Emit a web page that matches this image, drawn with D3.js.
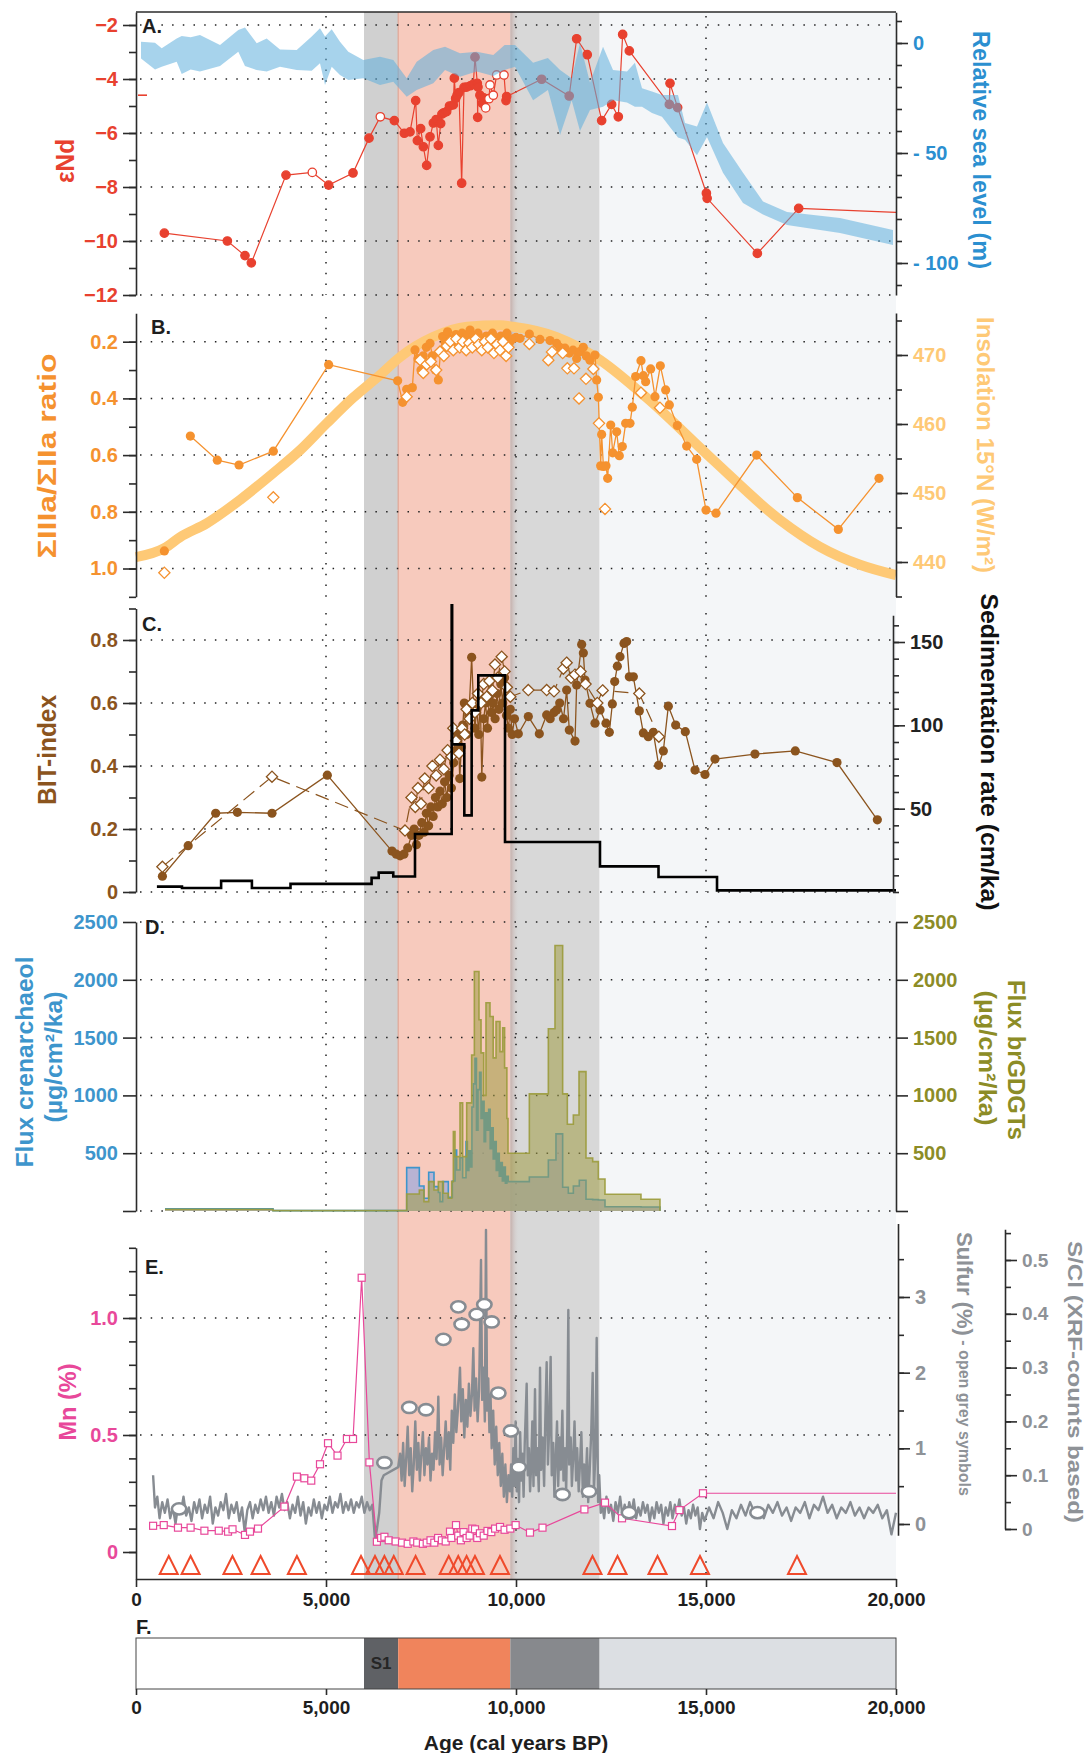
<!DOCTYPE html>
<html>
<head>
<meta charset="utf-8">
<script src="https://cdn.jsdelivr.net/npm/d3@7/dist/d3.min.js"></script>
<style>
  body { margin: 0; background: #fff; }
  svg text { font-family: "Liberation Sans", Arial, Helvetica, sans-serif; font-weight: bold; }
</style>
</head>
<body>
<svg id="chart" width="1092" height="1753"></svg>
<script>
// ---------- data (ages in cal yr BP) ----------
const zoneAges = [0, 6000, 6900, 9850, 12200, 20000];
const ageTicks = [0, 5000, 10000, 15000, 20000];

// A. eNd (filled unless age is in ndOpen)
const ndPoints = [[746,-9.71],[2404,-10.0],[2868,-10.54],[3035,-10.81],[3947,-7.56],[4640,-7.46],[5070,-7.93],[5711,-7.48],[6132,-6.19],[6430,-5.4],
  [6798,-5.54],[7061,-6.01],[7211,-5.96],[7360,-4.8],[7404,-6.28],[7491,-5.84],[7561,-6.51],[7649,-7.2],[7737,-6.14],[7825,-5.63],
  [7900,-5.5],[7956,-6.46],[8018,-5.65],[8050,-5.3],[8100,-5.25],[8175,-5.21],[8250,-5.0],[8350,-4.96],[8377,-3.97],[8412,-4.72],
  [8450,-4.6],[8500,-4.5],[8570,-7.86],[8632,-4.31],[8700,-4.3],[8800,-4.25],[8877,-4.19],[8921,-3.19],[8982,-4.16],[8991,-5.42],
  [9000,-4.3],[9050,-4.6],[9114,-4.9],[9150,-4.7],[9202,-5.07],[9289,-4.73],[9316,-4.22],[9403,-4.6],[9491,-3.85],[9684,-3.85],
  [9737,-4.8],[9754,-4.65],[10675,-4.01],[11400,-4.63],[11596,-2.51],[11875,-3.1],[12254,-5.54],[12517,-4.94],[12692,-5.4],[12807,-2.35],
  [12982,-2.96],[14035,-4.94],[14053,-4.16],[14254,-5.06],[15010,-8.23],[15030,-8.42],[16351,-10.46],[17439,-8.79]];
const ndOpen = [4640, 6430, 9202, 9289, 9316, 9403, 9491, 9684];
const ndEnd = [20000, -8.94];
const ndModern = -4.6;

// A. relative sea level envelope: [age, upper, lower] (m)
const seaLevel = [[132,0.6,-7],[500,0.1,-12],[676,-2.4,-10.8],[1071,2.1,-8.5],[1203,3.2,-14.1],[1439,2.6,-12],[1684,3.6,-13],[2211,-0.9,-10.5],
  [2692,5.9,-4],[2868,7.1,-10.5],[3176,-0.1,-12.3],[3439,2.1,-13],[3789,-2.9,-10.8],[4229,-3.2,-12.3],[4624,2.9,-12.6],[4842,6.7,-9.2],
  [4974,2.9,-19.1],[5150,6.2,-10.8],[5368,0.6,-14.5],[5587,-4,-16.8],[5982,-7.7,-16],[6421,-6.2,-19.1],[6771,-7.7,-17.6],[7124,-16,-24.4],
  [7387,-8.5,-21.4],[7824,-3.2,-18.3],[8132,-1.7,-12.3],[8526,-4.7,-15.3],[8966,-4,-13],[9403,-5.5,-15],[9700,-0.9,-12.3],[9974,-0.9,-10.8],
  [10450,-9,-26],[10840,-6.8,-21.4],[11160,-12.3,-41.8],[11465,-16,-26],[11684,0,-40],[11947,-18,-30.5],[12290,-1.7,-29],[12553,-12.3,-26],
  [12920,-13,-27],[13130,-9,-29],[13316,-20.6,-29],[13579,-22,-31.8],[13842,-23.6,-33.5],[14263,-23.6,-43],[14447,-36.4,-44],[14763,-38,-51],
  [15026,-27,-42.7],[15447,-45.5,-59],[15974,-59,-72.7],[16500,-72,-78],[17132,-76.8,-82.7],[18526,-79.5,-86.4],[19921,-85,-91.8]];

// B. SumIIIa/SumIIa ratio (first sample plotted without a connecting line) and insolation
const ratioSingle = [[746,0.938]];
const ratioPoints = [[1430,0.533],[2140,0.618],[2711,0.635],[3614,0.586],[5070,0.281],[6886,0.338],[7018,0.414],[7123,0.368],[7272,0.362],
  [7342,0.229],[7420,0.26],[7500,0.3],[7560,0.25],[7640,0.22],[7737,0.206],[7800,0.25],[7880,0.3],[7956,0.335],[8010,0.24],
  [8070,0.182],[8130,0.2],[8200,0.165],[8280,0.19],[8350,0.2],[8420,0.175],[8500,0.19],[8580,0.17],[8650,0.2],[8720,0.175],
  [8790,0.159],[8860,0.18],[8930,0.2],[9000,0.17],[9080,0.19],[9150,0.21],[9220,0.18],[9300,0.2],[9380,0.17],[9450,0.19],
  [9520,0.2],[9600,0.18],[9680,0.19],[9760,0.17],[9840,0.2],[9920,0.19],[10000,0.185],[10105,0.188],[10351,0.173],[10632,0.192],
  [10895,0.196],[11070,0.206],[11150,0.22],[11289,0.223],[11400,0.24],[11500,0.23],[11596,0.259],[11680,0.235],[11771,0.22],[11850,0.25],
  [11947,0.265],[12079,0.247],[12123,0.335],[12167,0.396],[12228,0.638],[12254,0.527],[12300,0.64],[12368,0.638],[12412,0.682],[12492,0.494],
  [12544,0.592],[12649,0.518],[12719,0.602],[12798,0.57],[12886,0.488],[13000,0.488],[13061,0.431],[13149,0.323],[13289,0.267],[13351,0.32],
  [13412,0.341],[13544,0.296],[13658,0.394],[13798,0.285],[13939,0.37],[14035,0.423],[14245,0.496],[14491,0.568],[14754,0.615],[15000,0.794],
  [15263,0.805],[16333,0.6],[17404,0.75],[18482,0.862],[19553,0.682]];
const ratioOpen = [[746,1.015],[3614,0.749],[7123,0.394],[7480,0.265],[7560,0.31],[7650,0.28],[7760,0.27],[7900,0.3],[8000,0.235],[8100,0.25],
  [8180,0.215],[8270,0.2],[8350,0.23],[8430,0.19],[8520,0.22],[8600,0.2],[8690,0.23],[8770,0.205],[8850,0.22],[8940,0.19],
  [9020,0.21],[9100,0.23],[9180,0.2],[9260,0.22],[9340,0.19],[9420,0.24],[9500,0.21],[9580,0.23],[9660,0.2],[9740,0.25],
  [9800,0.22],[10351,0.208],[10851,0.265],[10947,0.236],[11228,0.24],[11351,0.294],[11526,0.294],[11658,0.4],[11842,0.331],[12035,0.296],
  [12184,0.488],[12342,0.79],[13289,0.38],[13789,0.433]];
const insolation = [[0,440.7],[746,442],[1158,443.6],[1860,445.6],[2737,449],[3614,452.9],[4316,456.2],[5018,460.1],[5711,463.8],[6421,467.1],
  [6947,469.7],[7816,472.6],[8711,474.1],[9579,474.3],[9921,474.1],[11070,472.6],[12123,469.6],[13439,463.8],[15184,454.8],[16947,446.1],
  [18000,442.2],[19053,439.6],[20000,438.1]];

// C. BIT index and sedimentation rate
const bitPoints = [[695,0.05],[1373,0.147],[2097,0.25],[2667,0.253],[3579,0.25],[5035,0.371],[6737,0.13],[6850,0.12],[6950,0.115],[7050,0.12],
  [7150,0.14],[7250,0.18],[7320,0.2],[7380,0.15],[7450,0.18],[7520,0.22],[7580,0.19],[7640,0.25],[7700,0.21],[7760,0.27],
  [7820,0.24],[7880,0.3],[7940,0.27],[8000,0.32],[8060,0.28],[8120,0.35],[8180,0.3],[8240,0.37],[8300,0.33],[8360,0.41],
  [8420,0.45],[8480,0.5],[8520,0.36],[8560,0.46],[8600,0.53],[8640,0.6],[8700,0.5],[8760,0.56],[8833,0.745],[8880,0.6],
  [8920,0.52],[8970,0.58],[9020,0.5],[9060,0.62],[9100,0.365],[9150,0.55],[9200,0.6],[9250,0.52],[9300,0.62],[9350,0.57],
  [9400,0.6],[9450,0.55],[9500,0.63],[9550,0.58],[9600,0.66],[9650,0.6],[9700,0.68],[9750,0.56],[9800,0.52],[9850,0.58],
  [9900,0.5],[9960,0.55],[10061,0.502],[10324,0.557],[10614,0.502],[10807,0.562],[10900,0.55],[11000,0.57],[11070,0.578],[11150,0.6],
  [11250,0.55],[11333,0.641],[11403,0.514],[11553,0.479],[11596,0.657],[11728,0.786],[11772,0.759],[11816,0.673],[11947,0.599],[12079,0.536],
  [12211,0.578],[12368,0.536],[12456,0.507],[12535,0.597],[12597,0.668],[12667,0.717],[12737,0.747],[12842,0.789],[12912,0.795],[12982,0.683],
  [13088,0.683],[13245,0.575],[13351,0.505],[13482,0.493],[13614,0.507],[13754,0.402],[13877,0.448],[14009,0.59],[14202,0.53],[14456,0.509],
  [14711,0.387],[14974,0.373],[15237,0.422],[16289,0.438],[17350,0.448],[18447,0.411],[19509,0.229]];
const bitOpen = [[695,0.08],[3579,0.366],[7079,0.195],[7250,0.3],[7350,0.27],[7420,0.33],[7500,0.28],[7600,0.36],[7700,0.33],[7800,0.4],
  [7900,0.37],[8000,0.42],[8100,0.39],[8200,0.45],[8300,0.43],[8350,0.52],[8420,0.48],[8500,0.44],[8580,0.52],[8650,0.5],
  [8700,0.58],[8780,0.55],[8850,0.6],[8920,0.57],[9000,0.63],[9080,0.6],[9150,0.66],[9230,0.62],[9300,0.67],[9380,0.64],
  [9447,0.722],[9520,0.68],[9623,0.747],[9700,0.7],[9760,0.65],[9850,0.62],[10324,0.641],[10807,0.641],[11000,0.637],[11246,0.709],
  [11333,0.728],[11450,0.68],[11550,0.69],[11700,0.7],[11830,0.66],[12140,0.6],[12280,0.64],[13245,0.63],[13760,0.493]];
const sedRate = [[550,3.2],[1210,2.4],[2240,6.7],[3050,2.4],[4066,4.9],[6200,8.5],[6387,11.6],[6770,9.3],[7342,34.8],[8307,172],
  [8320,88.6],[8640,46],[8833,109],[9008,130],[9711,30],[12210,15.4],[13750,9],[15290,1],[20000,1]];

// D. fluxes (ug/cm2/ka), stepwise
const crenFlux = [[763,20],[3605,3],[7123,375],[7456,216],[7579,110],[7702,335],[7842,211],[7956,160],[8000,81],[8070,254],
  [8219,118],[8325,260],[8395,528],[8439,355],[8526,461],[8596,288],[8684,600],[8720,350],[8760,520],[8800,380],
  [8840,900],[8880,1100],[8920,1320],[8960,700],[9000,1050],[9040,1200],[9080,800],[9120,950],[9160,600],[9200,850],
  [9240,700],[9280,880],[9320,540],[9360,720],[9400,450],[9440,600],[9480,350],[9520,500],[9560,300],[9600,420],
  [9640,260],[9680,380],[9720,240],[9760,300],[9798,254],[10351,294],[10851,441],[11052,667],[11228,206],[11377,153],
  [11509,216],[11666,266],[11842,101],[12018,98],[12167,95],[12342,37],[13289,35],[13789,0]];
const brFlux = [[763,15],[3605,3],[7123,147],[7456,182],[7579,81],[7702,254],[7842,182],[7956,254],[8088,153],[8219,110],
  [8307,254],[8351,687],[8395,470],[8526,935],[8596,470],[8702,935],[8833,1350],[8904,2072],[9026,1654],[9080,1368],
  [9150,1000],[9210,1801],[9316,1683],[9400,1325],[9474,1639],[9579,1379],[9650,1584],[9700,1238],[9760,800],[9790,500],
  [10351,1013],[10851,1576],[11026,2297],[11228,1013],[11351,750],[11509,830],[11658,1206],[11842,459],[12018,427],[12167,277],
  [12342,145],[13289,101],[13789,0]];

// E. Mn (%), sulfur (%), S/Cl XRF ratio, sample triangles
const mnPoints = [[450,0.112],[730,0.115],[1105,0.104],[1437,0.104],[1800,0.091],[2178,0.091],[2422,0.087],[2540,0.097],[2868,0.073],[3000,0.087],
  [3210,0.1],[3905,0.194],[4234,0.322],[4431,0.315],[4612,0.305],[4842,0.375],[5053,0.465],[5303,0.412],[5550,0.483],[5711,0.483],
  [5939,1.172],[6142,0.383],[6339,0.044],[6450,0.06],[6537,0.065],[6650,0.05],[6832,0.045],[7000,0.04],[7150,0.035],[7300,0.045],
  [7400,0.04],[7550,0.035],[7650,0.04],[7750,0.05],[7850,0.04],[7950,0.06],[8050,0.05],[8150,0.045],[8263,0.087],[8300,0.06],
  [8421,0.115],[8480,0.07],[8550,0.05],[8620,0.085],[8700,0.06],[8780,0.07],[8850,0.1],[8921,0.097],[8980,0.06],[9050,0.08],
  [9150,0.07],[9250,0.09],[9350,0.085],[9450,0.1],[9579,0.107],[9700,0.095],[9850,0.1],[9990,0.115],[10368,0.083],[10697,0.104],
  [11800,0.182],[12342,0.211],[12790,0.144],[14105,0.111],[14300,0.179],[14921,0.251]];
const mnEnd = [20000, 0.251];
const sulfurPoints = [[1134,0.2],[6537,0.81],[7193,1.54],[7632,1.51],[8088,2.44],[8482,2.87],[8570,2.64],[8966,2.77],[9167,2.9],[9360,2.67],
  [9535,1.73],[9868,1.23],[10072,0.75],[11224,0.39],[11921,0.43],[12974,0.15],[16355,0.15]];
const sclPoints = [[450,0.10],[500,0.04],[560,0.06],[620,0.02],[690,0.05],[760,0.03],[830,0.055],[900,0.02],[970,0.04],[1040,0.01],
  [1110,0.045],[1180,0.03],[1250,0.06],[1320,0.025],[1390,0.04],[1460,0.015],[1530,0.05],[1600,0.03],[1670,0.055],[1740,0.02],
  [1810,0.045],[1880,0.03],[1950,0.06],[2020,0.01],[2090,0.04],[2160,0.025],[2230,0.05],[2300,0.035],[2370,0.065],[2440,0.02],
  [2510,0.045],[2580,0.03],[2650,0.05],[2720,0.015],[2790,0.04],[2860,-0.005],[2930,0.035],[3000,0.05],[3070,0.02],[3140,0.045],
  [3210,0.03],[3280,0.055],[3350,0.035],[3420,0.06],[3490,0.03],[3560,0.05],[3630,0.025],[3700,0.06],[3770,0.04],[3840,0.065],
  [3910,0.035],[3980,0.05],[4050,0.02],[4120,0.045],[4190,0.03],[4260,0.06],[4330,0.025],[4400,0.05],[4470,0.01],[4540,0.04],
  [4610,0.025],[4680,0.055],[4750,0.03],[4820,0.05],[4890,0.02],[4960,0.045],[5030,0.035],[5100,0.06],[5170,0.03],[5240,0.05],
  [5310,0.04],[5380,0.065],[5450,0.03],[5520,0.05],[5590,0.035],[5660,0.055],[5730,0.03],[5800,0.05],[5870,0.04],[5940,0.06],
  [6010,0.03],[6080,0.05],[6150,0.035],[6220,0.045],[6290,-0.02],[6340,0.0],[6400,0.03],[6460,0.09],[6520,0.1],[6900,0.115],
  [6950,0.14],[6990,0.09],[7030,0.16],[7070,0.08],[7110,0.13],[7150,0.19],[7190,0.1],[7230,0.15],[7270,0.07],[7310,0.12],
  [7350,0.2],[7390,0.11],[7430,0.16],[7470,0.09],[7510,0.14],[7550,0.18],[7590,0.1],[7630,0.15],[7670,0.12],[7710,0.17],
  [7750,0.09],[7790,0.14],[7830,0.11],[7870,0.18],[7910,0.13],[7956,0.246],[7990,0.12],[8030,0.17],[8070,0.1],[8110,0.15],
  [8150,0.2],[8190,0.13],[8230,0.18],[8270,0.11],[8310,0.22],[8350,0.16],[8390,0.25],[8430,0.18],[8470,0.22],[8526,0.3],
  [8560,0.2],[8600,0.26],[8640,0.17],[8680,0.24],[8720,0.19],[8760,0.27],[8800,0.21],[8840,0.25],[8877,0.336],[8910,0.22],
  [8950,0.28],[8990,0.2],[9030,0.26],[9079,0.5],[9110,0.24],[9150,0.3],[9180,0.2],[9210,0.556],[9240,0.22],[9270,0.28],
  [9300,0.18],[9330,0.25],[9360,0.15],[9400,0.22],[9440,0.12],[9480,0.19],[9520,0.1],[9560,0.16],[9600,0.08],[9640,0.14],
  [9680,0.06],[9720,0.12],[9760,0.05],[9800,0.1],[9840,0.07],[9870,0.12],[9900,0.06],[9930,0.15],[9960,0.08],[9990,0.2],
  [10020,0.07],[10050,0.13],[10080,0.05],[10110,0.18],[10140,0.09],[10170,0.14],[10200,0.06],[10230,0.16],[10281,0.27],[10310,0.1],
  [10340,0.15],[10370,0.07],[10400,0.12],[10430,0.2],[10460,0.08],[10500,0.26],[10530,0.1],[10560,0.15],[10600,0.07],[10632,0.3],
  [10660,0.11],[10700,0.17],[10740,0.08],[10770,0.2],[10807,0.31],[10840,0.12],[10870,0.18],[10912,0.32],[10940,0.1],[10980,0.16],
  [11010,0.06],[11050,0.14],[11080,0.2],[11110,0.08],[11150,0.17],[11180,0.11],[11220,0.22],[11250,0.09],[11290,0.15],[11320,0.07],
  [11350,0.19],[11377,0.407],[11400,0.12],[11440,0.17],[11470,0.08],[11510,0.14],[11540,0.2],[11580,0.09],[11610,0.15],[11650,0.07],
  [11690,0.13],[11720,0.18],[11760,0.06],[11790,0.12],[11830,0.08],[11870,0.15],[11900,0.05],[11940,0.11],[11980,0.18],[12018,0.29],
  [12050,0.07],[12090,0.14],[12123,0.355],[12160,0.05],[12190,0.1],[12230,0.03],[12260,0.05],[12320,0.02],[12380,0.06],[12440,0.03],
  [12500,0.045],[12560,0.015],[12620,0.05],[12680,0.03],[12740,0.06],[12800,0.025],[12860,0.045],[12920,0.02],[12980,0.05],[13040,0.03],
  [13100,0.055],[13160,0.02],[13220,0.04],[13280,0.025],[13340,0.05],[13400,0.03],[13460,0.045],[13520,0.015],[13580,0.04],[13640,0.02],
  [13700,0.05],[13760,0.03],[13820,0.045],[13880,0.01],[13940,0.04],[14000,0.025],[14060,0.05],[14120,0.02],[14180,0.045],[14240,0.03],
  [14300,0.055],[14360,0.025],[14420,0.04],[14480,0.01],[14540,0.035],[14600,0.02],[14660,0.045],[14720,0.025],[14780,0.04],[14840,0.0],
  [14900,0.03],[14960,0.015],[15080,0.04],[15200,0.02],[15320,0.05],[15440,0.03],[15560,0.0],[15680,0.035],[15800,0.02],[15920,0.045],
  [16040,0.025],[16160,0.05],[16280,0.03],[16400,0.04],[16520,0.02],[16640,0.045],[16760,0.03],[16880,0.05],[17000,0.025],[17120,0.04],
  [17240,0.015],[17360,0.04],[17480,0.03],[17600,0.05],[17720,0.02],[17840,0.045],[17960,0.035],[18080,0.06],[18200,0.03],[18320,0.045],
  [18440,0.02],[18560,0.04],[18680,0.03],[18800,0.05],[18920,0.025],[19040,0.04],[19160,0.02],[19280,0.04],[19400,0.03],[19520,0.045],
  [19640,0.02],[19760,0.035],[19880,-0.01],[20000,0.03]];
const triangleAges = [862,1437,2539,3279,4234,5921,6289,6537,6783,7358,8230,8480,8700,8920,9578,12013,12671,13724,14842,17395];

// ---------- layout ----------
const svg = d3.select('#chart');
const L = 136, R = 896;
const x = d3.scaleLinear().domain([0, 20000]).range([L, R]);
const pA = [12, 295], pB = [313, 597], pC = [609, 892], pD = [922, 1211], pE = [1247, 1579];
const FONT = '"Liberation Sans", Arial, Helvetica, sans-serif';

const yNd = d3.scaleLinear().domain([-12, -2]).range([295, 25]);
const ySea = d3.scaleLinear().domain([-100, 0]).range([263, 43]);
const yRatio = d3.scaleLinear().domain([0.2, 1.0]).range([341.7, 568.5]);
const yIns = d3.scaleLinear().domain([440, 470]).range([562, 355]);
const yBit = d3.scaleLinear().domain([0, 0.8]).range([892, 640]);
const ySed = d3.scaleLinear().domain([0, 150]).range([892, 642]);
const yFlux = d3.scaleLinear().domain([0, 2500]).range([1211, 922]);
const yMn = d3.scaleLinear().domain([0, 1]).range([1552, 1318]);
const yS = d3.scaleLinear().domain([0, 3]).range([1524, 1297]);
const yScl = d3.scaleLinear().domain([0, 0.5]).range([1529, 1260]);

const RED = '#e8412f', BLUE = '#2b8fd0', ORANGE = '#f5922f', INS = '#fec976', BROWN = '#8b541e',
      CREN = '#3d95cc', OLIVE = '#8c8c26', PINK = '#e8489a', GREY = '#878c92';

// ---------- background zones ----------
const zoneFill = [null, '#d0d0d0', '#f7cabd', '#d8d8d8', '#f4f6f8'];
const bg = svg.append('g');
d3.range(1, 5).forEach(i => {
  bg.append('rect').attr('x', x(zoneAges[i])).attr('y', pA[0])
    .attr('width', x(zoneAges[i + 1]) - x(zoneAges[i])).attr('height', pE[1] - pA[0])
    .attr('fill', zoneFill[i]);
});
bg.append('line').attr('x1', x(zoneAges[2])).attr('x2', x(zoneAges[2])).attr('y1', pA[0]).attr('y2', pE[1])
  .attr('stroke', '#dfa595').attr('stroke-width', 1.2);
const grad = svg.append('defs').append('linearGradient').attr('id', 'edge');
grad.append('stop').attr('offset', 0).attr('stop-color', '#b58c84').attr('stop-opacity', 0.55);
grad.append('stop').attr('offset', 1).attr('stop-color', '#d8d8d8').attr('stop-opacity', 0);
bg.append('rect').attr('x', x(zoneAges[3])).attr('y', pA[0]).attr('width', 9).attr('height', pE[1] - pA[0])
  .attr('fill', 'url(#edge)');

// ---------- helpers ----------
function hGrid(scale, vals) {
  svg.append('g').selectAll('line').data(vals).join('line')
    .attr('x1', L + 4).attr('x2', R - 3).attr('y1', d => scale(d)).attr('y2', d => scale(d))
    .attr('stroke', '#222').attr('stroke-width', 1.5).attr('stroke-dasharray', '1.5,9.2');
}
function vGrid(panel) {
  svg.append('g').selectAll('line').data([5000, 10000, 15000]).join('line')
    .attr('x1', d => x(d)).attr('x2', d => x(d)).attr('y1', panel[0] + 4).attr('y2', panel[1])
    .attr('stroke', '#222').attr('stroke-width', 1.5).attr('stroke-dasharray', '1.5,9.2');
}
function axis(side, scale, xPos, ext, majors, minors, fmt, color, o = {}) {
  const s = scale.copy().domain(ext).range(ext.map(scale));
  const mk = side === 'left' ? d3.axisLeft : d3.axisRight;
  const g1 = svg.append('g').attr('transform', `translate(${xPos},0)`)
    .call(mk(s).tickValues(minors).tickSize(o.minor || 7).tickSizeOuter(0).tickFormat(''));
  const g2 = svg.append('g').attr('transform', `translate(${xPos},0)`)
    .call(mk(s).tickValues(majors).tickSize(o.major || 13).tickSizeOuter(0).tickPadding(o.pad || 5).tickFormat(fmt));
  g2.select('.domain').remove();
  [g1, g2].forEach(g => g.selectAll('line, path').attr('stroke', '#2b2b2b').attr('stroke-width', 1.6));
  g2.selectAll('text').attr('fill', color).attr('font-size', o.fs || 20)
    .attr('font-family', FONT).attr('font-weight', 'bold');
}
function title(txt, cx, cy, rot, color, fs, len) {
  const t = svg.append('text').attr('transform', `translate(${cx},${cy}) rotate(${rot})`)
    .attr('text-anchor', 'middle').attr('dominant-baseline', 'central')
    .attr('fill', color).attr('font-size', fs).text(txt);
  if (len) t.attr('textLength', len).attr('lengthAdjust', 'spacingAndGlyphs');
  return t;
}
function panelLabel(txt, px, py) {
  svg.append('text').attr('x', px).attr('y', py).attr('font-size', 20).attr('fill', '#1e1e1e').text(txt);
}
const diamond = 'M0,-5.6L5.6,0L0,5.6L-5.6,0Z';

// ---------- panel A ----------
hGrid(yNd, [-2, -4, -6, -8, -10, -12]);
vGrid(pA);
svg.append('line').attr('x1', L).attr('x2', R).attr('y1', pA[0]).attr('y2', pA[0]).attr('stroke', '#2b2b2b').attr('stroke-width', 1.6);
svg.append('line').attr('x1', L + 2).attr('x2', L + 11).attr('y1', yNd(ndModern)).attr('y2', yNd(ndModern))
  .attr('stroke', RED).attr('stroke-width', 1.6);
svg.append('path').datum(ndPoints.concat([ndEnd]))
  .attr('d', d3.line().x(d => x(d[0])).y(d => yNd(d[1])))
  .attr('fill', 'none').attr('stroke', RED).attr('stroke-width', 1.2);
svg.append('g').selectAll('circle').data(ndPoints).join('circle')
  .attr('cx', d => x(d[0])).attr('cy', d => yNd(d[1])).attr('r', 4.2)
  .attr('fill', d => ndOpen.includes(d[0]) ? '#fff' : RED)
  .attr('stroke', RED).attr('stroke-width', 1.3);
svg.append('path').datum(seaLevel)
  .attr('d', d3.area().x(d => x(d[0])).y0(d => ySea(d[2])).y1(d => ySea(d[1])))
  .attr('fill', '#5eafdc').attr('opacity', 0.55);
axis('left', yNd, L, [-12, -1.52], [-12, -10, -8, -6, -4, -2], d3.range(-12, -1), d => '\u2212' + Math.abs(d), RED);
axis('right', ySea, R, [-114.5, 14], [-100, -50, 0], d3.range(-110, 11, 10), d => d === 0 ? '0' : '- ' + Math.abs(d), BLUE, { major: 12, minor: 6 });
panelLabel('A.', 142, 33);
title('\u03b5Nd', 65, 161, -90, RED, 26, 44);
title('Relative sea level (m)', 981, 150, 90, BLUE, 23, 238);

// ---------- panel B ----------
hGrid(yRatio, [0.2, 0.4, 0.6, 0.8, 1.0]);
vGrid(pB);
svg.append('path').datum(insolation)
  .attr('d', d3.line().curve(d3.curveMonotoneX).x(d => x(d[0])).y(d => yIns(d[1])))
  .attr('fill', 'none').attr('stroke', INS).attr('stroke-width', 10).attr('stroke-linecap', 'butt');
svg.append('path').datum(ratioPoints)
  .attr('d', d3.line().x(d => x(d[0])).y(d => yRatio(d[1])))
  .attr('fill', 'none').attr('stroke', ORANGE).attr('stroke-width', 1.3);
svg.append('g').selectAll('circle').data(ratioSingle.concat(ratioPoints)).join('circle')
  .attr('cx', d => x(d[0])).attr('cy', d => yRatio(d[1])).attr('r', 4.6).attr('fill', ORANGE);
svg.append('g').selectAll('path').data(ratioOpen).join('path')
  .attr('d', diamond).attr('transform', d => `translate(${x(d[0])},${yRatio(d[1])})`)
  .attr('fill', '#fff').attr('stroke', ORANGE).attr('stroke-width', 1.3);
axis('left', yRatio, L, [0.1, 1.1], [0.2, 0.4, 0.6, 0.8, 1.0], d3.range(2, 12).map(i => i / 10), d3.format('.1f'), ORANGE);
axis('right', yIns, R, [435, 476.1], [440, 450, 460, 470], d3.range(435, 476, 5), d => d, INS, { major: 12, minor: 6 });
panelLabel('B.', 151, 334);
title('\u03a3IIIa/\u03a3IIa ratio', 47, 456, -90, ORANGE, 26, 205);
title('Insolation 15\u00b0N (W/m\u00b2)', 985, 445, 90, INS, 23, 256);

// ---------- panel C ----------
hGrid(yBit, [0, 0.2, 0.4, 0.6, 0.8]);
vGrid(pC);
svg.append('path').datum(bitOpen)
  .attr('d', d3.line().x(d => x(d[0])).y(d => yBit(d[1])))
  .attr('fill', 'none').attr('stroke', BROWN).attr('stroke-width', 1.2).attr('stroke-dasharray', '14,7');
svg.append('path').datum(bitPoints)
  .attr('d', d3.line().x(d => x(d[0])).y(d => yBit(d[1])))
  .attr('fill', 'none').attr('stroke', BROWN).attr('stroke-width', 1.3);
svg.append('g').selectAll('circle').data(bitPoints).join('circle')
  .attr('cx', d => x(d[0])).attr('cy', d => yBit(d[1])).attr('r', 4.6).attr('fill', BROWN);
svg.append('g').selectAll('path').data(bitOpen).join('path')
  .attr('d', diamond).attr('transform', d => `translate(${x(d[0])},${yBit(d[1])})`)
  .attr('fill', '#fff').attr('stroke', BROWN).attr('stroke-width', 1.3);
svg.append('path').datum(sedRate)
  .attr('d', d3.line().curve(d3.curveStepAfter).x(d => x(d[0])).y(d => ySed(d[1])))
  .attr('fill', 'none').attr('stroke', '#000').attr('stroke-width', 2.6);
axis('left', yBit, L, [0, 0.9], [0, 0.2, 0.4, 0.6, 0.8], d3.range(0, 10).map(i => i / 10), d => d === 0 ? '0' : d3.format('.1f')(d), BROWN);
axis('right', ySed, R - 3, [0, 166], [50, 100, 150], d3.range(0, 170, 10), d => d, '#222', { major: 12, minor: 6 });
panelLabel('C.', 142, 631);
title('BIT-index', 47, 750, -90, BROWN, 26, 110);
title('Sedimentation rate (cm/ka)', 989, 752, 90, '#111', 23, 317);

// ---------- panel D ----------
hGrid(yFlux, [0, 500, 1000, 1500, 2000, 2500]);
vGrid(pD);
const stepArea = d3.area().curve(d3.curveStepAfter).x(d => x(d[0])).y0(yFlux(0)).y1(d => yFlux(d[1]));
const stepLine = d3.line().curve(d3.curveStepAfter).x(d => x(d[0])).y(d => yFlux(d[1]));
svg.append('path').datum(crenFlux).attr('d', stepArea).attr('fill', '#a7acd8').attr('opacity', 0.8);
svg.append('path').datum(crenFlux).attr('d', stepLine).attr('fill', 'none').attr('stroke', CREN).attr('stroke-width', 1.6);
svg.append('path').datum(brFlux).attr('d', stepArea).attr('fill', '#a09c45').attr('opacity', 0.55);
svg.append('path').datum(brFlux).attr('d', stepLine).attr('fill', 'none').attr('stroke', '#9b9b3c').attr('stroke-width', 1.6).attr('opacity', 0.9);
axis('left', yFlux, L, [0, 2500], [0, 500, 1000, 1500, 2000, 2500], [], d => d === 0 ? '' : d, CREN);
axis('right', yFlux, R, [0, 2500], [0, 500, 1000, 1500, 2000, 2500], [], d => d === 0 ? '' : d, OLIVE, { major: 12 });
panelLabel('D.', 145, 934);
title('Flux crenarchaeol', 24, 1062, -90, CREN, 24, 211);
title('(\u00b5g/cm\u00b2/ka)', 53, 1057, -90, CREN, 24, 131);
title('Flux brGDGTs', 1016, 1060, 90, OLIVE, 24, 160);
title('(\u00b5g/cm\u00b2/ka)', 987, 1058, 90, OLIVE, 24, 135);

// ---------- panel E ----------
hGrid(yMn, [0.5, 1.0]);
vGrid(pE);
svg.append('path').datum(sclPoints)
  .attr('d', d3.line().x(d => x(d[0])).y(d => yScl(d[1])))
  .attr('fill', 'none').attr('stroke', GREY).attr('stroke-width', 2.4).attr('stroke-linejoin', 'round');
svg.append('path').datum(mnPoints.concat([mnEnd]))
  .attr('d', d3.line().x(d => x(d[0])).y(d => yMn(d[1])))
  .attr('fill', 'none').attr('stroke', PINK).attr('stroke-width', 1.2);
svg.append('g').selectAll('rect').data(mnPoints).join('rect')
  .attr('x', d => x(d[0]) - 3.5).attr('y', d => yMn(d[1]) - 3.5).attr('width', 7).attr('height', 7)
  .attr('fill', '#fff').attr('stroke', PINK).attr('stroke-width', 1.2);
svg.append('g').selectAll('ellipse').data(sulfurPoints).join('ellipse')
  .attr('cx', d => x(d[0])).attr('cy', d => yS(d[1])).attr('rx', 7.2).attr('ry', 5.6)
  .attr('fill', '#fff').attr('stroke', GREY).attr('stroke-width', 2.6);
svg.append('g').selectAll('path').data(triangleAges).join('path')
  .attr('d', 'M0,-10L9,8L-9,8Z').attr('transform', d => `translate(${x(d)},1566)`)
  .attr('fill', 'none').attr('stroke', '#ef4a2b').attr('stroke-width', 2);
axis('left', yMn, L, [-0.115, 1.3], [0, 0.5, 1.0], d3.range(0, 14).map(i => i / 10), d => d === 0 ? '0' : d3.format('.1f')(d), PINK);
axis('right', yS, 898, [-0.15, 3.97], [0, 1, 2, 3], d3.range(0, 8).map(i => i / 2), d => d, '#8e9297', { major: 12, minor: 6 });
axis('right', yScl, 1005, [0, 0.557], [0, 0.1, 0.2, 0.3, 0.4, 0.5], d3.range(0, 12).map(i => i / 20), d => d === 0 ? '0' : d3.format('.1f')(d), '#8e9297', { major: 12, minor: 6, fs: 19 });
const xb = svg.append('g').attr('transform', `translate(0,${pE[1]})`)
  .call(d3.axisBottom(x).tickValues(ageTicks).tickSize(8).tickSizeOuter(0).tickPadding(6).tickFormat(d3.format(',')));
xb.selectAll('line, path').attr('stroke', '#2b2b2b').attr('stroke-width', 1.6);
xb.selectAll('text').attr('fill', '#1e1e1e').attr('font-size', 19).attr('font-family', FONT).attr('font-weight', 'bold');
panelLabel('E.', 145, 1274);
title('Mn (%)', 67, 1402, -90, PINK, 24, 77);
const sul = svg.append('text').attr('transform', 'translate(965,1232) rotate(90)')
  .attr('dominant-baseline', 'central').attr('fill', '#8e9297');
sul.append('tspan').attr('font-size', 22).text('Sulfur (%)');
sul.append('tspan').attr('font-size', 16).text(' - open grey symbols');
title('S/Cl (XRF-counts based)', 1075, 1382, 90, '#8e9297', 21, 282);

// ---------- panel F ----------
const fTop = 1638, fH = 51;
const fFill = ['#ffffff', '#5f6165', '#f0845c', '#87898d', '#dcdfe3'];
d3.range(0, 5).forEach(i => {
  svg.append('rect').attr('x', x(zoneAges[i])).attr('y', fTop)
    .attr('width', x(zoneAges[i + 1]) - x(zoneAges[i])).attr('height', fH).attr('fill', fFill[i]);
});
svg.append('rect').attr('x', x(0)).attr('y', fTop).attr('width', x(20000) - x(0)).attr('height', fH)
  .attr('fill', 'none').attr('stroke', '#444').attr('stroke-width', 1);
svg.append('text').attr('x', x((zoneAges[1] + zoneAges[2]) / 2)).attr('y', fTop + fH / 2)
  .attr('text-anchor', 'middle').attr('dominant-baseline', 'central').attr('font-size', 17).attr('fill', '#262626').text('S1');
const xf = svg.append('g').attr('transform', `translate(0,${fTop + fH})`)
  .call(d3.axisBottom(x).tickValues(ageTicks).tickSize(6).tickSizeOuter(0).tickPadding(6).tickFormat(d3.format(',')));
xf.select('.domain').remove();
xf.selectAll('line').attr('stroke', '#2b2b2b').attr('stroke-width', 1.6);
xf.selectAll('text').attr('fill', '#1e1e1e').attr('font-size', 19).attr('font-family', FONT).attr('font-weight', 'bold');
panelLabel('F.', 136, 1634);
svg.append('text').attr('x', x(10000)).attr('y', 1750).attr('text-anchor', 'middle')
  .attr('font-size', 21).attr('fill', '#1e1e1e').text('Age (cal years BP)');
</script>
</body>
</html>
